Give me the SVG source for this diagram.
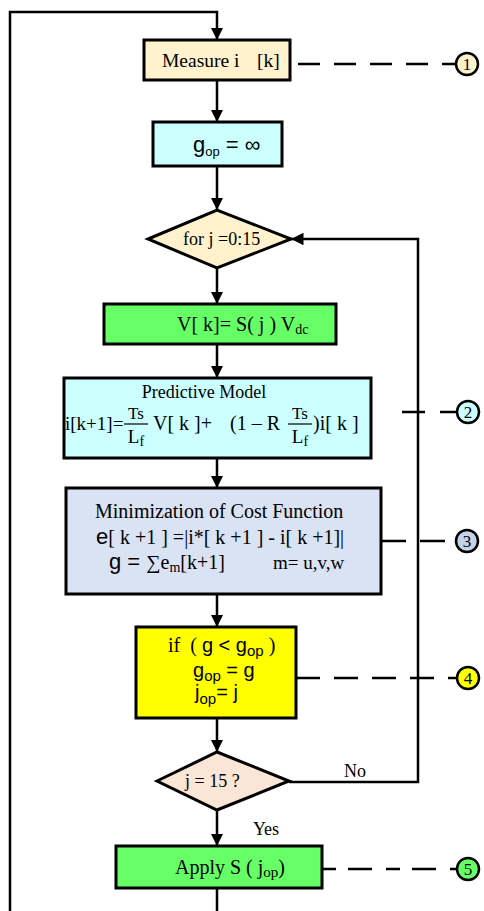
<svg xmlns="http://www.w3.org/2000/svg" width="484" height="911" viewBox="0 0 484 911">
<defs>
<marker id="ah" viewBox="0 0 10 10" refX="10" refY="5" markerWidth="5" markerHeight="5" orient="auto" markerUnits="strokeWidth"><path d="M0,0 L10,5 L0,10 z" fill="#000"/></marker>
<style>
.box{stroke:#000;stroke-width:3}
.ln{stroke:#000;stroke-width:2.5;fill:none}
.dash{stroke:#000;stroke-width:2.5;fill:none;stroke-dasharray:22 14}
.cir{stroke:#000;stroke-width:2.5}
text{white-space:pre}
.s{font-family:"Liberation Serif","Times New Roman",serif;fill:#000}
.a{font-family:"Liberation Sans",Arial,sans-serif;fill:#000}
</style>
</defs>
<rect width="484" height="911" fill="#fff"/>
<g id="connectors">
<polyline class="ln" points="10,911 10,12 217,12 217,40" marker-end="url(#ah)"/>
<line class="ln" x1="217" y1="80" x2="217" y2="122" marker-end="url(#ah)"/>
<line class="ln" x1="217" y1="166" x2="217" y2="210" marker-end="url(#ah)"/>
<line class="ln" x1="217" y1="268" x2="217" y2="304" marker-end="url(#ah)"/>
<line class="ln" x1="217" y1="344" x2="217" y2="378" marker-end="url(#ah)"/>
<line class="ln" x1="217" y1="458" x2="217" y2="488" marker-end="url(#ah)"/>
<line class="ln" x1="217" y1="594" x2="217" y2="627" marker-end="url(#ah)"/>
<line class="ln" x1="217" y1="718" x2="217" y2="752" marker-end="url(#ah)"/>
<line class="ln" x1="217" y1="810" x2="217" y2="846" marker-end="url(#ah)"/>
<line class="ln" x1="217" y1="888" x2="217" y2="911"/>
<polyline class="ln" points="289,782 418,782 418,239 291,239" marker-end="url(#ah)"/>
<text class="s" x="355" y="777" font-size="18" text-anchor="middle">No</text>
<text class="s" x="266" y="835" font-size="18" text-anchor="middle">Yes</text>
<line class="dash" x1="298" y1="64" x2="457" y2="64"/>
<line class="dash" x1="402" y1="412" x2="457" y2="412" style="stroke-dasharray:23 15"/>
<line class="dash" x1="381" y1="541" x2="456" y2="541" style="stroke-dasharray:25 14"/>
<line class="dash" x1="296" y1="678" x2="457" y2="678" style="stroke-dasharray:24 14"/>
<line class="dash" x1="322" y1="869" x2="457" y2="869" style="stroke-dasharray:14 12 24 14"/>
</g>
<g id="measure">
<rect class="box" x="144" y="40" width="146" height="40" fill="#FFF2CC"/>
<text class="s" x="162" y="67" font-size="19.5">Measure i<tspan x="257">[k]</tspan></text>
</g>
<g id="gop-init">
<rect class="box" x="153" y="122" width="129" height="44" fill="#CCFFFF"/>
<text class="a" x="193" y="152" font-size="22">g<tspan font-size="13" dy="4">op</tspan><tspan dy="-4"> = ∞</tspan></text>
</g>
<g id="for-loop">
<polygon class="box" points="148,239 217,210 291,239 217,268" fill="#FFF2CC"/>
<text class="s" x="183" y="245" font-size="18">for j =0:15</text>
</g>
<g id="vk">
<rect class="box" x="104" y="304" width="232" height="40" fill="#66FF66"/>
<text class="s" x="177" y="331" font-size="20">V[ k]= S( j ) V<tspan font-size="14" dy="3">dc</tspan></text>
</g>
<g id="predictive">
<rect class="box" x="64" y="378" width="307" height="80" fill="#CCFFFF"/>
<text class="s" x="204" y="398" font-size="18" text-anchor="middle">Predictive Model</text>
<text class="s" x="65" y="430" font-size="19">i[k+1]=</text>
<text class="s" x="136" y="419" font-size="17" text-anchor="middle">Ts</text>
<line x1="124" y1="424" x2="148" y2="424" stroke="#000" stroke-width="1.2"/>
<text class="s" x="136" y="443" font-size="19" text-anchor="middle">L<tspan font-size="14" dy="3">f</tspan></text>
<text class="s" x="153" y="430" font-size="20">V[ k ]+</text>
<text class="s" x="230" y="430" font-size="20">(1 – R</text>
<text class="s" x="300" y="419" font-size="17" text-anchor="middle">Ts</text>
<line x1="288" y1="424" x2="312" y2="424" stroke="#000" stroke-width="1.2"/>
<text class="s" x="300" y="443" font-size="19" text-anchor="middle">L<tspan font-size="14" dy="3">f</tspan></text>
<text class="s" x="313" y="430" font-size="20">)i[ k ]</text>
</g>
<g id="cost">
<rect class="box" x="66" y="488" width="315" height="106" fill="#DAE3F3"/>
<text class="s" x="95" y="518" font-size="20">Minimization of Cost Function</text>
<text class="s" x="96" y="544" font-size="20"><tspan class="a" font-size="22">e</tspan>[ k +1 ] =|i*[ k +1 ] - i[ k +1]|</text>
<text class="s" x="109" y="569" font-size="20"><tspan class="a" font-size="22">g = </tspan>∑e<tspan font-size="14" dy="3">m</tspan><tspan dy="-3">[k+1]</tspan></text>
<text class="s" x="273" y="569" font-size="19">m= u,v,w</text>
</g>
<g id="if-block">
<rect class="box" x="136" y="627" width="160" height="91" fill="#FFFF00"/>
<text class="s" x="168" y="652" font-size="20">if  ( <tspan class="a" font-size="20">g &lt; g</tspan><tspan class="a" font-size="15" dy="4">op</tspan><tspan dy="-4"> )</tspan></text>
<text class="a" x="193" y="677" font-size="20">g<tspan font-size="15" dy="4">op</tspan><tspan dy="-4"> = g</tspan></text>
<text class="a" x="195" y="699" font-size="20">j<tspan font-size="15" dy="5">op</tspan><tspan dy="-5">= j</tspan></text>
</g>
<g id="check-j">
<polygon class="box" points="157,781 217,752 289,781 217,810" fill="#FBE5D6"/>
<text class="s" x="185" y="787" font-size="18">j = 15 ?</text>
</g>
<g id="apply">
<rect class="box" x="116" y="846" width="206" height="42" fill="#66FF66"/>
<text class="s" x="175" y="874" font-size="20">Apply S ( j<tspan font-size="15" dy="3">op</tspan><tspan dy="-3">)</tspan></text>
</g>
<g id="c1"><circle class="cir" cx="467" cy="64" r="11" fill="#FFF2CC"/><text class="s" x="467" y="70" font-size="17" text-anchor="middle">1</text></g>
<g id="c2"><circle class="cir" cx="468" cy="412" r="11" fill="#CCFFFF"/><text class="s" x="468" y="418" font-size="17" text-anchor="middle">2</text></g>
<g id="c3"><circle class="cir" cx="467" cy="541" r="11" fill="#C5D3EA"/><text class="s" x="467" y="547" font-size="17" text-anchor="middle">3</text></g>
<g id="c4"><circle class="cir" cx="468" cy="678" r="11" fill="#FFFF00"/><text class="s" x="468" y="684" font-size="17" text-anchor="middle">4</text></g>
<g id="c5"><circle class="cir" cx="468" cy="869" r="11" fill="#66FF66"/><text class="s" x="468" y="875" font-size="17" text-anchor="middle">5</text></g>
</svg>
